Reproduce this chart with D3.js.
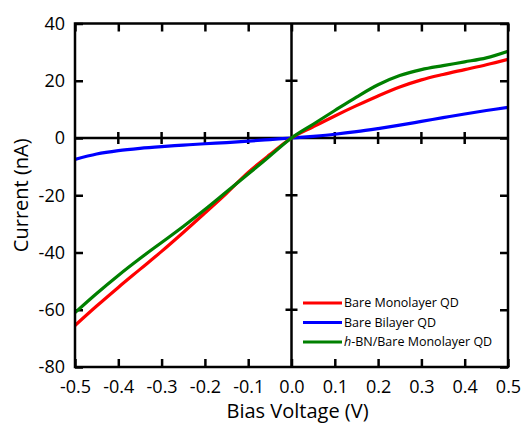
<!DOCTYPE html>
<html>
<head>
<meta charset="utf-8">
<script src="https://cdn.jsdelivr.net/npm/d3@7"></script>
<style>
  html, body { margin: 0; padding: 0; background: #fff; }
  svg { display: block; font-family: "Open Sans", sans-serif; }
</style>
</head>
<body>
<svg id="chart" width="523" height="423"></svg>
<script>
// Bias voltage sweep (V)
const voltage = [-0.5, -0.45, -0.4, -0.35, -0.3, -0.25, -0.2, -0.15, -0.1, -0.05, 0,
                 0.05, 0.1, 0.15, 0.2, 0.25, 0.3, 0.35, 0.4, 0.45, 0.5];

// Measured current (nA) for each device
const bareMonolayer = [-65.5, -58.7, -52.2, -45.9, -39.6, -33.0, -26.2, -19.3, -12.0, -5.8, 0,
                       3.9, 7.7, 11.3, 14.7, 17.8, 20.3, 22.2, 23.9, 25.6, 27.5];
const bareBilayer = [-7.5, -5.6, -4.4, -3.6, -3.0, -2.5, -2.0, -1.6, -1.1, -0.55, 0,
                     0.6, 1.3, 2.2, 3.3, 4.5, 5.8, 7.1, 8.4, 9.6, 10.7];
const hbnMonolayer = [-61.0, -54.3, -48.0, -42.1, -36.5, -30.9, -25.0, -18.8, -12.6, -6.3, 0,
                      4.8, 9.6, 14.3, 18.6, 21.8, 23.9, 25.3, 26.6, 28.0, 30.3];

const seriesNames = ["Bare Monolayer QD", "Bare Bilayer QD", "h-BN/Bare Monolayer QD"];
const seriesColors = ["#ff0000", "#0000ff", "#008000"];
const seriesValues = [bareMonolayer, bareBilayer, hbnMonolayer];

const xTicks = [-0.5, -0.4, -0.3, -0.2, -0.1, 0, 0.1, 0.2, 0.3, 0.4, 0.5];
const yTicks = [-80, -60, -40, -20, 0, 20, 40];

const margin = { left: 75, top: 23.5, right: 15, bottom: 56 };
const width = 523 - margin.left - margin.right;
const height = 423 - margin.top - margin.bottom;

const locale = d3.formatLocale({ decimal: ".", thousands: ",", grouping: [3], currency: ["$", ""], minus: "-" });
const fmtX = locale.format(".1f");
const fmtY = locale.format("d");

const svg = d3.select("#chart");
const g = svg.append("g").attr("transform", `translate(${margin.left},${margin.top})`);

const x = d3.scaleLinear().domain([-0.5, 0.5]).range([0, width]);
const y = d3.scaleLinear().domain([-80, 40]).range([height, 0]);

const tickLen = 8;
const lineW = 2.5;

// Bottom axis with labels, ticks pointing inward
const xAxis = g.append("g")
  .attr("transform", `translate(0,${height})`)
  .call(d3.axisBottom(x).tickValues(xTicks).tickFormat(fmtX)
        .tickSizeInner(-tickLen).tickSizeOuter(0).tickPadding(13));
// Top axis, ticks only
const xTop = g.append("g")
  .call(d3.axisTop(x).tickValues(xTicks).tickFormat("")
        .tickSizeInner(-tickLen).tickSizeOuter(0));
// Left axis with labels
const yAxis = g.append("g")
  .call(d3.axisLeft(y).tickValues(yTicks).tickFormat(fmtY)
        .tickSizeInner(-tickLen).tickSizeOuter(0).tickPadding(10));
// Right axis, ticks only
const yRight = g.append("g")
  .attr("transform", `translate(${width},0)`)
  .call(d3.axisRight(y).tickValues(yTicks).tickFormat("")
        .tickSizeInner(-tickLen).tickSizeOuter(0));

[xAxis, xTop, yAxis, yRight].forEach(a => {
  a.select(".domain").remove();
  a.selectAll(".tick line").attr("stroke", "#000").attr("stroke-width", lineW);
  a.selectAll(".tick text").attr("fill", "#000").style("font-size", "18px")
    .style("font-family", "'Open Sans', sans-serif");
});

// Zero lines through the origin
g.append("line").attr("x1", 0).attr("x2", width).attr("y1", y(0)).attr("y2", y(0))
  .attr("stroke", "#000").attr("stroke-width", lineW);
g.append("line").attr("x1", x(0)).attr("x2", x(0)).attr("y1", 0).attr("y2", height)
  .attr("stroke", "#000").attr("stroke-width", lineW);

// Crossing ticks on the zero lines
g.append("g").selectAll("line").data(xTicks.filter(v => v !== 0 && Math.abs(v) !== 0.5))
  .join("line")
  .attr("x1", d => x(d)).attr("x2", d => x(d))
  .attr("y1", y(0) - 6).attr("y2", y(0) + 6)
  .attr("stroke", "#000").attr("stroke-width", lineW);
g.append("g").selectAll("line").data(yTicks.filter(v => v !== 0 && v !== 40 && v !== -80))
  .join("line")
  .attr("y1", d => y(d)).attr("y2", d => y(d))
  .attr("x1", x(0) - 6).attr("x2", x(0) + 6)
  .attr("stroke", "#000").attr("stroke-width", lineW);

// Curves
const line = d3.line().curve(d3.curveCatmullRom.alpha(0.5))
  .x((d, i) => x(voltage[i])).y(d => y(d));

const clipId = "plot-clip";
svg.append("defs").append("clipPath").attr("id", clipId)
  .append("rect").attr("x", 0).attr("y", 0).attr("width", width).attr("height", height);

const curves = g.append("g").attr("clip-path", `url(#${clipId})`);
// draw bilayer first, then monolayer, then h-BN on top
[1, 0, 2].forEach(k => {
  curves.append("path").datum(seriesValues[k])
    .attr("d", line)
    .attr("fill", "none")
    .attr("stroke", seriesColors[k])
    .attr("stroke-width", 3.2)
    .attr("stroke-linejoin", "round");
});

// Frame
g.append("rect").attr("x", 0).attr("y", 0).attr("width", width).attr("height", height)
  .attr("fill", "none").attr("stroke", "#000").attr("stroke-width", lineW);

// Axis titles
svg.append("text")
  .attr("x", margin.left + width / 2 + 6).attr("y", 418)
  .attr("text-anchor", "middle").style("font-size", "20px").attr("fill", "#000")
  .text("Bias Voltage (V)");
svg.append("text")
  .attr("transform", `translate(28,${margin.top + height / 2}) rotate(-90)`)
  .attr("text-anchor", "middle").style("font-size", "20px").attr("fill", "#000")
  .text("Current (nA)");

// Legend
const legend = g.append("g").attr("transform", `translate(${303 - margin.left},${303 - margin.top})`);
seriesNames.forEach((name, i) => {
  const row = legend.append("g").attr("transform", `translate(0,${i * 19.5})`);
  row.append("line").attr("x1", 0).attr("x2", 39).attr("y1", 0).attr("y2", 0)
    .attr("stroke", seriesColors[i]).attr("stroke-width", 3);
  const t = row.append("text").attr("x", 41).attr("y", 0).attr("dy", "0.35em")
    .style("font-size", "12.5px").attr("fill", "#000");
  if (name.startsWith("h-")) {
    t.append("tspan").style("font-style", "italic").text("h");
    t.append("tspan").text(name.slice(1));
  } else {
    t.text(name);
  }
});
</script>
</body>
</html>
